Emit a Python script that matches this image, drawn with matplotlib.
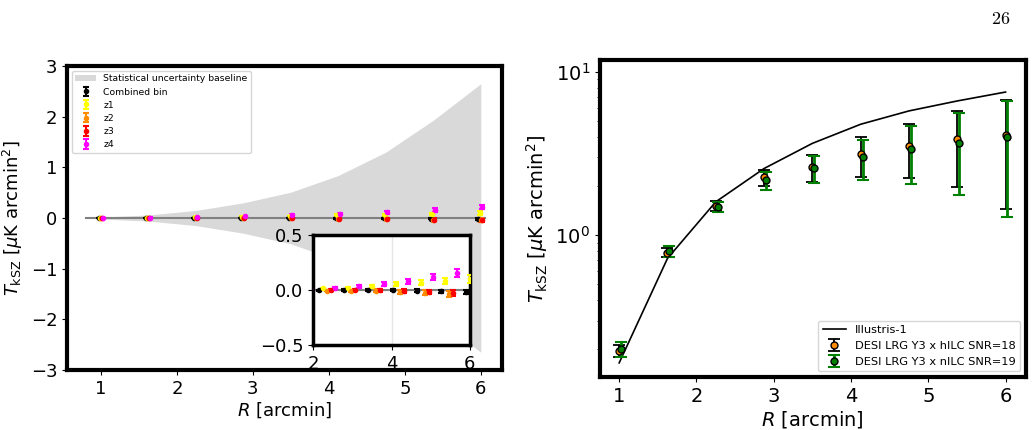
import matplotlib
matplotlib.use("Agg")
import matplotlib.pyplot as plt
import numpy as np

# radial bins [arcmin]
R = np.array([1.0, 1.625, 2.25, 2.875, 3.5, 4.125, 4.75, 5.375, 6.0])

# left panel: null test per redshift bin
band = [0.02, 0.06, 0.15, 0.30, 0.51, 0.84, 1.30, 1.93, 2.65]
comb = [0.0, 0.0, 0.0, 0.0, 0.0, -0.002, -0.005, -0.012, -0.018]
comb_err = [0.003, 0.004, 0.005, 0.007, 0.008, 0.010, 0.012, 0.015, 0.018]
z1 = [0.005, 0.01, 0.015, 0.02, 0.035, 0.055, 0.065, 0.08, 0.10]
z2 = [0.0, 0.0, -0.005, -0.005, -0.008, -0.018, -0.025, -0.032, -0.04]
z3 = [0.0, 0.0, 0.0, 0.0, -0.002, -0.012, -0.018, -0.03, -0.045]
z4 = [0.005, 0.01, 0.015, 0.035, 0.055, 0.08, 0.115, 0.155, 0.22]
z_err = [0.004, 0.006, 0.008, 0.010, 0.014, 0.018, 0.022, 0.028, 0.035]
z4_err = [0.005, 0.007, 0.009, 0.012, 0.016, 0.022, 0.028, 0.035, 0.040]

# right panel: measurements and simulation
illustris = [0.165, 0.72, 1.60, 2.56, 3.65, 4.78, 5.77, 6.64, 7.53]
hilc = [0.196, 0.78, 1.51, 2.26, 2.60, 3.12, 3.52, 3.86, 4.10]
hilc_err = [0.016, 0.05, 0.11, 0.25, 0.48, 0.85, 1.28, 1.90, 2.66]
nilc = [0.20, 0.795, 1.49, 2.17, 2.58, 3.02, 3.36, 3.67, 3.97]
nilc_err = [0.02, 0.06, 0.11, 0.27, 0.48, 0.83, 1.29, 1.92, 2.67]

ylab = r'$T_{\rm kSZ}$ [$\mu$K arcmin$^2$]'

fig = plt.figure(figsize=(10.36, 4.30), dpi=100)
ax1 = fig.add_axes([0.0647, 0.1395, 0.4199, 0.707])
ax2 = fig.add_axes([0.579, 0.123, 0.411, 0.737])

# ---- left panel ----
ax1.fill_between(R, -np.array(band), band, color='#d9d9d9', lw=0,
                 label='Statistical uncertainty baseline')
ax1.plot([0.8, 6.05], [0, 0], color='gray', lw=1.5, zorder=2)

series = [(comb, comb_err, 'black', 'Combined bin'),
          (z1, z_err, 'yellow', 'z1'),
          (z2, z_err, 'darkorange', 'z2'),
          (z3, z_err, 'red', 'z3'),
          (z4, z4_err, 'magenta', 'z4')]
main_off = [-0.03, -0.015, 0.0, 0.01, 0.02]
ins_off = [-0.1, 0.0, 0.1, 0.2, 0.3]

for (y, e, c, lab), off in zip(series, main_off):
    ax1.errorbar(R + off, y, yerr=e, fmt='o', color=c, ms=3, capsize=2.5,
                 elinewidth=1.5, capthick=1.5, label=lab, zorder=3)

ax1.set_xlim(0.553, 6.28)
ax1.set_ylim(-3, 3)
ax1.set_xticks([1, 2, 3, 4, 5, 6])
ax1.set_yticks([-3, -2, -1, 0, 1, 2, 3])
ax1.tick_params(labelsize=13)
ax1.set_xlabel(r'$R$ [arcmin]', fontsize=13, labelpad=2)
ax1.set_ylabel(ylab, fontsize=13)
for s in ax1.spines.values():
    s.set_linewidth(3)
ax1.legend(loc='upper left', fontsize=6.7, handlelength=2.2, labelspacing=0.45)

# inset
axin = ax1.inset_axes([0.566, 0.082, 0.36, 0.362])
axin.axhline(0, color='gray', lw=1.5, zorder=2)
for (y, e, c, lab), off in zip(series, ins_off):
    axin.errorbar(R + off, y, yerr=e, fmt='o', color=c, ms=3, capsize=2.5,
                  elinewidth=1.5, capthick=1.5, zorder=3)
axin.set_xlim(2, 6)
axin.set_ylim(-0.5, 0.5)
axin.set_xticks([2, 4, 6])
axin.set_yticks([-0.5, 0.0, 0.5])
axin.grid(True, color='#e6e6e6', lw=1)
axin.set_axisbelow(True)
axin.tick_params(labelsize=13)
for s in axin.spines.values():
    s.set_linewidth(2.5)

# ---- right panel ----
ax2.plot(R, illustris, color='black', lw=1.2, label='Illustris-1')
ax2.errorbar(R, hilc, yerr=hilc_err, fmt='o', color='black', mfc='darkorange',
             mec='black', ms=5, capsize=4, elinewidth=1.3, capthick=1.3,
             label='DESI LRG Y3 x hILC SNR=18')
ax2.errorbar(R + 0.025, nilc, yerr=nilc_err, fmt='o', color='green', mfc='green',
             mec='black', ms=5, capsize=4, elinewidth=2, capthick=1.5,
             label='DESI LRG Y3 x nILC SNR=19')
ax2.set_yscale('log')
ax2.set_xlim(0.75, 6.26)
ax2.set_ylim(0.135, 11.8)
ax2.set_xticks([1, 2, 3, 4, 5, 6])
ax2.tick_params(labelsize=14)
ax2.set_xlabel(r'$R$ [arcmin]', fontsize=14, labelpad=2)
ax2.set_ylabel(ylab, fontsize=14)
for s in ax2.spines.values():
    s.set_linewidth(3)
ax2.legend(loc='lower right', fontsize=8.2, handlelength=2.0)

fig.text(0.966, 0.955, r'$26$', fontsize=13, math_fontfamily='cm',
         ha='center', va='center')

fig.savefig('out.png', dpi=100)
